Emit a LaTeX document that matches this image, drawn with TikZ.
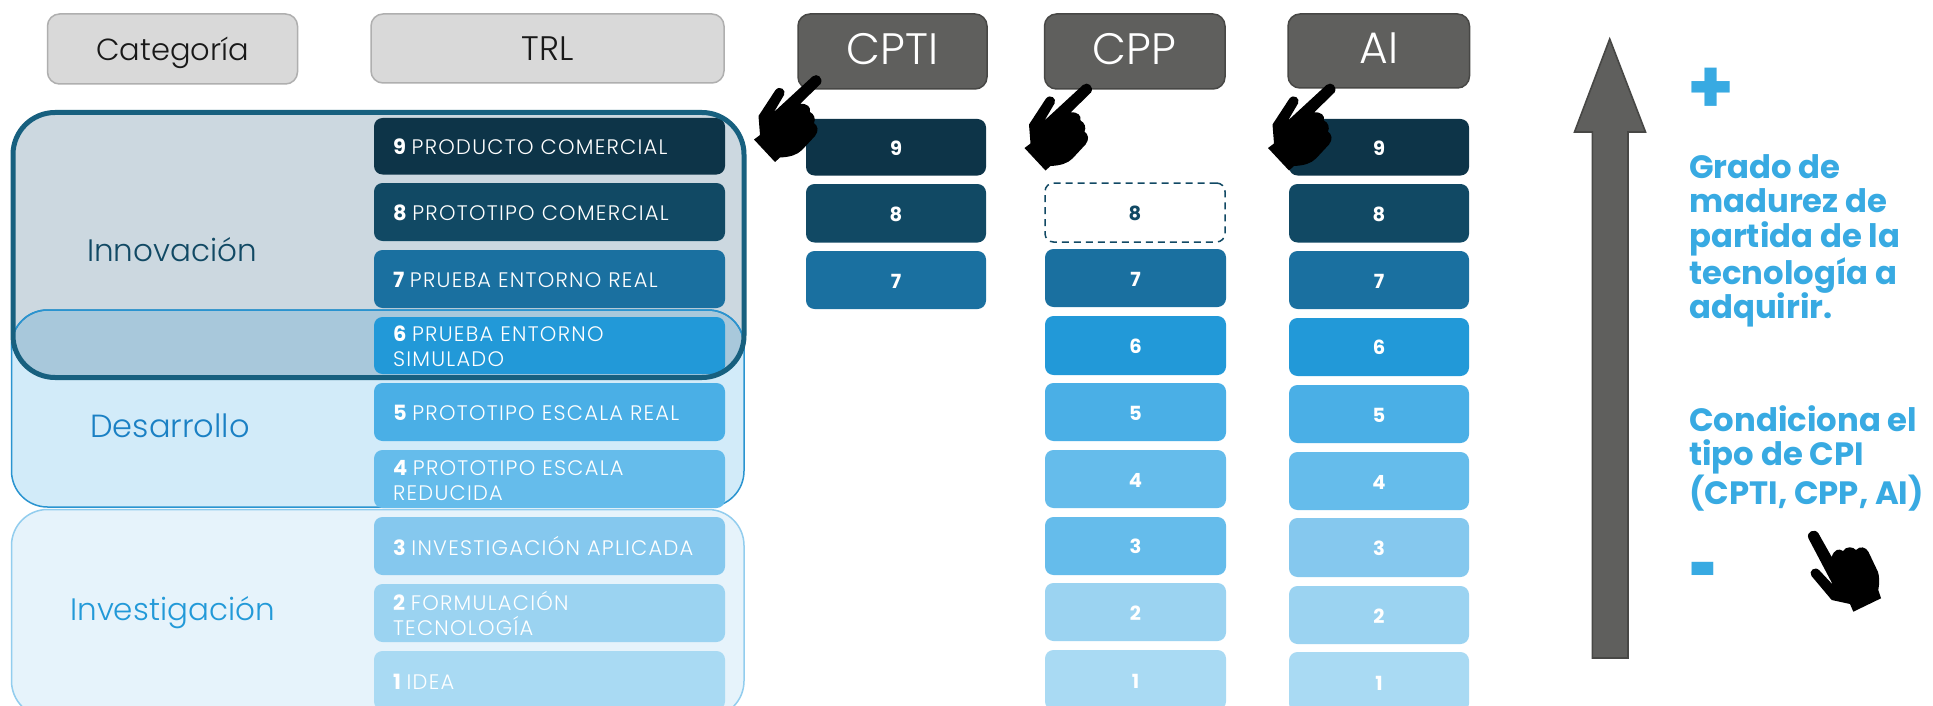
\documentclass[tikz,border=0pt]{standalone}
\usepackage{fontspec}
\setmainfont{Poppins}
\newfontfamily\lightf{Poppins Light}
\newfontfamily\trlf[LetterSpace=6,BoldFont={Poppins Bold}]{Poppins Light}
\usetikzlibrary{calc}
\definecolor{c9}{HTML}{0D3448}
\definecolor{c8}{HTML}{114964}
\definecolor{c7}{HTML}{1A70A0}
\definecolor{c6}{HTML}{2299D8}
\definecolor{c5}{HTML}{4AAFE6}
\definecolor{c4}{HTML}{65BCEB}
\definecolor{c3}{HTML}{85C8EE}
\definecolor{c2}{HTML}{9BD3F1}
\definecolor{c1}{HTML}{A9DAF3}
\definecolor{inno}{HTML}{003C64}
\definecolor{innoline}{HTML}{17607F}
\definecolor{desline}{HTML}{2A94D0}
\definecolor{destext}{HTML}{1A80C4}
\definecolor{invline}{HTML}{92CDEE}
\definecolor{accent}{HTML}{38AAE2}
\definecolor{lgray}{HTML}{D9D9D9}
\definecolor{lgrayl}{HTML}{AFAFAF}
\definecolor{dgray}{HTML}{5F5F5D}
\definecolor{dgrayl}{HTML}{474745}
\newcommand{\pbox}[7]{%
  \pgfmathsetmacro\cx{(#3+#5)/2}\pgfmathsetmacro\cy{(#4+#6)/2}%
  \pgfmathsetmacro\ww{#5-#3}\pgfmathsetmacro\hh{#6-#4}%
  \node[#2,minimum width=\ww pt,minimum height=\hh pt] (#1) at (\cx,\cy) {#7};}
\newcommand{\lvl}[1]{\textbf{#1}\kern-2.5pt\ }
\tikzset{
  x=1pt,y=-1pt,
  anybox/.style={rectangle,rounded corners=8.5pt,inner sep=0pt,outer sep=0pt},
  trlbar/.style={anybox,fill=#1,draw=none,text=white,text width=313pt,inner xsep=19pt,align=left,
     font=\fontsize{21}{25}\selectfont\trlf,execute at begin node={\rule{0pt}{17.5pt}}},
  numbar/.style={anybox,fill=#1,draw=none,text=white,font=\fontsize{19.5}{24}\selectfont\bfseries,execute at begin node={\rule{0pt}{16pt}}},
  lighthead/.style={anybox,rounded corners=12pt,fill=lgray,draw=lgrayl,line width=1.5pt,text=black!90,text depth=0pt,font=\fontsize{#1}{34}\selectfont\lightf},
  darkhead/.style={anybox,rounded corners=12pt,fill=dgray,draw=dgrayl,line width=1.5pt,text=white,text depth=5pt,font=\fontsize{44}{48}\selectfont\lightf},
  catlabel/.style={inner sep=0pt,font=\fontsize{31}{36}\selectfont\lightf},
  sidetext/.style={inner sep=0pt,text=accent,align=left,anchor=north west,font=\fontsize{32.3}{34.8}\selectfont\bfseries},
  pics/handdown/.style={code={\fill[black] (72.5,6.5) -- (34,42) -- (44,25) .. controls (46.5,20) and (40,15) .. (35.5,20) -- (18.5,46) -- (20,65) -- (14,69.5) -- (35,92) -- (40,87.5) .. controls (50,87) and (57,85) .. (62,80) -- (75,66) .. controls (79,61) and (78,56) .. (74,53) .. controls (76,49) and (74,44) .. (70,42) .. controls (71,37) and (67,33) .. (60,34) -- (80.5,14) .. controls (84,8) and (77,2.5) .. (72.5,6.5) -- cycle;}},
}
\begin{document}
\begin{tikzpicture}
\clip (0,0) rectangle (1933,706);
\fill[white] (0,0) rectangle (1933,706);
% category bands
\draw[fill=invline!23!white,draw=invline,line width=1.5pt,rounded corners=36pt] (11.5,509.5) rectangle (744,717);
\draw[fill=c5!25!white,draw=desline,line width=1.5pt,rounded corners=36pt] (11.5,310) rectangle (744,507);
\fill[inno,fill opacity=0.2,rounded corners=42pt] (13,112.5) rectangle (744,377.5);
\draw[draw=desline,line width=1.5pt,rounded corners=36pt] (11.5,350) -- (11.5,310) -- (744,310) -- (744,350);
% headers
\pbox{hcat}{lighthead=30.5}{47.5}{14}{297.5}{84}{Categoría}
\pbox{htrl}{lighthead=34}{371}{14}{724}{83}{TRL}
\pbox{hcpti}{darkhead}{798}{14}{987}{89}{CPTI}
\pbox{hcpp}{darkhead}{1044.5}{14}{1225}{89}{CPP}
\pbox{hai}{darkhead}{1288}{14}{1469.5}{88}{AI}
% TRL bars
\pbox{t9}{trlbar=c9}{374}{118}{725}{174.5}{\lvl{9}PRODUCTO COMERCIAL}
\pbox{t8}{trlbar=c8}{374}{183}{725}{241}{\lvl{8}PROTOTIPO COMERCIAL}
\pbox{t7}{trlbar=c7}{374}{250}{725}{308}{\lvl{7}PRUEBA ENTORNO REAL}
\pbox{t6}{trlbar=c6}{374}{317}{725}{374}{\lvl{6}PRUEBA ENTORNO\\SIMULADO}
\pbox{t5}{trlbar=c5}{374}{383}{725}{441}{\lvl{5}PROTOTIPO ESCALA REAL}
\pbox{t4}{trlbar=c4}{374}{450}{725}{508}{\lvl{4}PROTOTIPO ESCALA\\REDUCIDA}
\pbox{t3}{trlbar=c3}{374}{517}{725}{575}{\lvl{3}INVESTIGACIÓN APLICADA}
\pbox{t2}{trlbar=c2}{374}{584}{725}{642}{\lvl{2}FORMULACIÓN\\TECNOLOGÍA}
\pbox{t1}{trlbar=c1}{374}{651}{725}{710}{\lvl{1}IDEA}
% outline of Innovacion
\draw[draw=innoline,line width=5pt,rounded corners=42pt] (13,112.5) rectangle (744,377.5);
% category names
\node[catlabel,text=c8] (linno) at (172,250) {Innovación};
\node[catlabel,text=destext,font=\fontsize{32}{36}\selectfont\lightf] (ldes) at (170,426) {Desarrollo};
\node[catlabel,text=c6] (linv) at (172.5,613) {Investigación};
% CPTI column
\pbox{a9}{numbar=c9}{806}{119}{986}{175.5}{9}
\pbox{a8}{numbar=c8}{806}{184}{986}{242.5}{8}
\pbox{a7}{numbar=c7}{806}{251}{986}{309}{7}
% CPP column
\pbox{b8}{anybox,draw=c8,line width=1.5pt,dash pattern=on 7pt off 5pt,text=c8,font=\fontsize{19.5}{24}\selectfont\bfseries,execute at begin node={\rule{0pt}{16pt}}}{1045}{183}{1225}{242}{8}
\pbox{b7}{numbar=c7}{1045}{249}{1226}{307}{7}
\pbox{b6}{numbar=c6}{1045}{316}{1226}{375}{6}
\pbox{b5}{numbar=c5}{1045}{383}{1226}{441}{5}
\pbox{b4}{numbar=c4}{1045}{450}{1226}{508}{4}
\pbox{b3}{numbar=c4}{1045}{517}{1226}{575}{3}
\pbox{b2}{numbar=c2}{1045}{583}{1226}{641}{2}
\pbox{b1}{numbar=c1}{1045}{650}{1226}{710}{1}
% AI column
\pbox{c9n}{numbar=c9}{1289}{119}{1469}{175.5}{9}
\pbox{c8n}{numbar=c8}{1289}{184}{1469}{242.5}{8}
\pbox{c7n}{numbar=c7}{1289}{251}{1469}{309}{7}
\pbox{c6n}{numbar=c6}{1289}{318}{1469}{376}{6}
\pbox{c5n}{numbar=c5}{1289}{385}{1469}{443}{5}
\pbox{c4n}{numbar=c4}{1289}{452}{1469}{510}{4}
\pbox{c3n}{numbar=c3}{1289}{518}{1469}{577}{3}
\pbox{c2n}{numbar=c2}{1289}{586}{1469}{644}{2}
\pbox{c1n}{numbar=c1}{1289}{652}{1469}{712}{1}
% hands
\pic at (740,70) {handdown};
\pic at (1010.5,78.5) {handdown};
\pic at (1254,78.5) {handdown};
\fill[black,shift={(1540,380)}] (268.5,158.5) -- (293,205) -- (279.5,190.5) .. controls (275,185.5) and (268,191) .. (271.5,196) -- (291.7,220) -- (310,224) -- (313.3,231.7) -- (341,218.3) -- (338.3,210) .. controls (339.5,203) and (339.5,197) .. (338,192) -- (328.5,172) .. controls (326,167) and (320,165.5) .. (316,170) .. controls (313,166.5) and (306,166) .. (303,171) .. controls (299,168) and (294,169.5) .. (291.7,177) -- (278.5,153.5) .. controls (275,147.5) and (265.5,152) .. (268.5,158.5) -- cycle;
% big arrow
\draw[fill=dgray,draw=dgrayl,line width=1.6pt,line join=miter] (1609.7,39) -- (1645.5,132) -- (1628,132) -- (1628,658) -- (1592.3,658) -- (1592.3,132) -- (1574.5,132) -- cycle;
% side text
\node[inner sep=0pt,text=accent,font=\fontsize{75}{78}\selectfont\bfseries] (plus) at (1711,91) {+};
\node[inner sep=0pt,text=accent,font=\fontsize{58}{60}\selectfont\bfseries] (minus) at (1704,581.5) {\scalebox{0.85}[1.6]{-}};
\node[sidetext] (grado) at (1689,154) {Grado de\\madurez de\\partida de la\\tecnología a\\adquirir.};
\node[sidetext] (cond) at (1689,405) {Condiciona el\\tipo de CPI\\(CPTI, CPP, AI)};
\end{tikzpicture}
\end{document}
